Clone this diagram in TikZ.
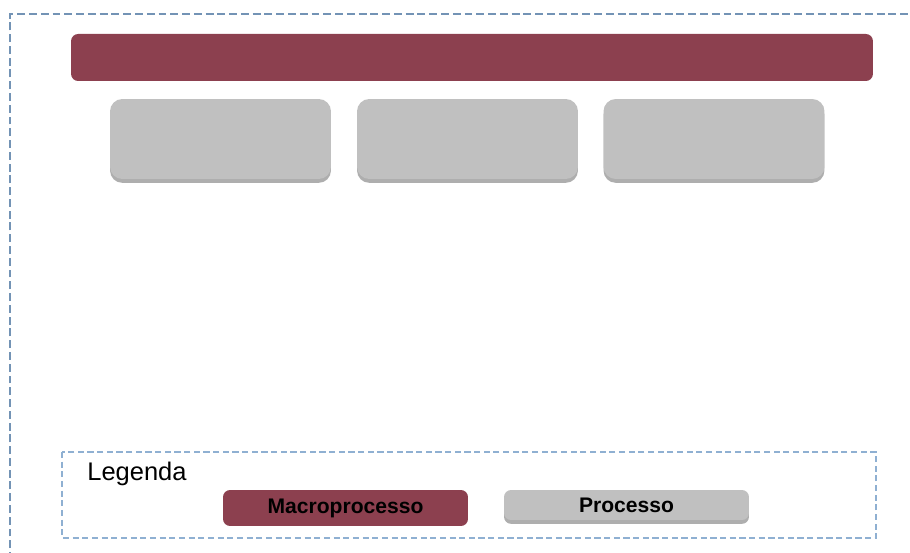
\documentclass[tikz,border=0pt]{standalone}
\usepackage{fontspec}
\setmainfont{Liberation Sans}
\usetikzlibrary{shadows}
\definecolor{macrored}{HTML}{8C404F}
\definecolor{procgray}{HTML}{C0C0C0}
\definecolor{framegray}{HTML}{7393B5}
\definecolor{legendblue}{HTML}{8FB0D2}
\tikzset{
  macrobox/.style={rectangle, rounded corners=4pt, fill=macrored, inner sep=0pt},
  procbox/.style={rectangle, rounded corners=7pt, fill=procgray, inner sep=0pt,
    drop shadow={shadow xshift=0pt, shadow yshift=-2.2pt, fill=black!45, opacity=0.7}},
  frameline/.style={draw=framegray, line width=1.6pt, dash pattern=on 4.5pt off 2.2pt},
  legendline/.style={draw=legendblue, line width=0.9pt, dash pattern=on 3.5pt off 2pt}
}
\begin{document}
\begin{tikzpicture}[x=0.02cm, y=-0.02cm]
      \useasboundingbox (0,0) rectangle (910,553);
      \def\bw{4.42cm}
      \def\bh{1.6cm}

      % Outer frame
      \begin{scope}
        \clip (0,0) rectangle (910,553);
        \draw[frameline] (10,560) -- (10,14) -- (920,14);
      \end{scope}

      % Macroprocess bar
      \node[macrobox, minimum width=16.04cm, minimum height=0.94cm] (bar) at (472,57.5) {};

      % Processes
      \node[procbox, minimum width=\bw, minimum height=\bh] (procA) at (220.5,139) {};
      \node[procbox, minimum width=\bw, minimum height=\bh] (procB) at (467.5,139) {};
      \node[procbox, minimum width=\bw, minimum height=\bh] (procC) at (714,139) {};

      % Legend
      \draw[legendline] (62,452) rectangle (876,538);
      \node[anchor=west, font=\fontsize{14.5}{16}\selectfont, inner sep=0pt] (legtitle) at (87,474) {Legenda};
      \node[macrobox, minimum width=4.9cm, minimum height=0.72cm,
        font=\bfseries\fontsize{12}{14}\selectfont] (legmacro) at (345.5,508) {Macroprocesso};
      \node[procbox, rounded corners=4pt, minimum width=4.9cm, minimum height=0.6cm,
        font=\bfseries\fontsize{12}{14}\selectfont] (legproc) at (626.5,505) {Processo};
\end{tikzpicture}
\end{document}
